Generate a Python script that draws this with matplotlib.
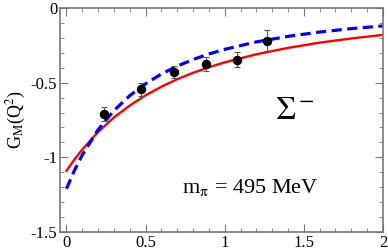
import matplotlib
matplotlib.use("Agg")
import matplotlib.pyplot as plt
from matplotlib.ticker import MultipleLocator

plt.rcParams['font.family'] = 'serif'
plt.rcParams['font.serif'] = ['Liberation Serif', 'DejaVu Serif']
plt.rcParams['mathtext.fontset'] = 'stix'

# lattice points
q2 = [0.235, 0.47, 0.68, 0.88, 1.08, 1.27]
gm = [-0.71, -0.545, -0.43, -0.375, -0.345, -0.22]
gm_err = [0.045, 0.045, 0.04, 0.05, 0.05, 0.07]

# curves
curve_x = [0, 0.05, 0.1, 0.2, 0.3, 0.4, 0.5, 0.6, 0.7, 0.8, 0.9, 1.0,
           1.2, 1.4, 1.6, 1.8, 2.0]
red_y = [-1.09, -1.015, -0.947, -0.830, -0.733, -0.653, -0.585, -0.527, -0.477,
         -0.434, -0.397, -0.364, -0.310, -0.267, -0.232, -0.204, -0.180]
blue_y = [-1.21, -1.088, -0.984, -0.815, -0.687, -0.587, -0.507, -0.442, -0.389,
          -0.345, -0.308, -0.277, -0.227, -0.190, -0.161, -0.138, -0.120]

fig = plt.figure(figsize=(3.88, 2.5), dpi=100)
ax = fig.add_axes([0.155, 0.072, 0.832, 0.896])

ax.plot(curve_x, red_y, color='red', lw=1.7)
ax.plot(curve_x, blue_y, color='blue', lw=2.3, dashes=(3.2, 1.7))
ax.errorbar(q2, gm, yerr=gm_err, fmt='o', color='black', ms=5.8,
            ecolor='#555555', elinewidth=0.8, capsize=2.5, capthick=0.8)

ax.set_xlim(-0.04, 2)
ax.set_ylim(-1.5, 0)
ax.xaxis.set_minor_locator(MultipleLocator(0.1))
ax.yaxis.set_minor_locator(MultipleLocator(0.1))
ax.set_xticks([0, 0.5, 1, 1.5, 2])
ax.set_xticklabels(['0', '0.5', '1', '1.5', '2'])
ax.set_yticks([0, -0.5, -1, -1.5])
ax.set_yticklabels(['0', '-0.5', '-1', '-1.5'])
ax.tick_params(which='both', direction='in', top=True, right=True,
               color='#777777', labelsize=12, pad=2)
ax.tick_params(which='major', length=6)
ax.tick_params(which='minor', length=3)
for s in ax.spines.values():
    s.set_color('#777777')
    s.set_linewidth(1.2)

ax.set_ylabel(r'G$_\mathrm{M}$(Q$^2$)', fontsize=13, labelpad=2)
ax.text(1.32, -0.74, r'$\Sigma^-$', fontsize=23)
ax.text(0.73, -1.24, r'm$_\mathrm{\pi}$ = 495 MeV', fontsize=16)

fig.savefig('out.png', dpi=100)
